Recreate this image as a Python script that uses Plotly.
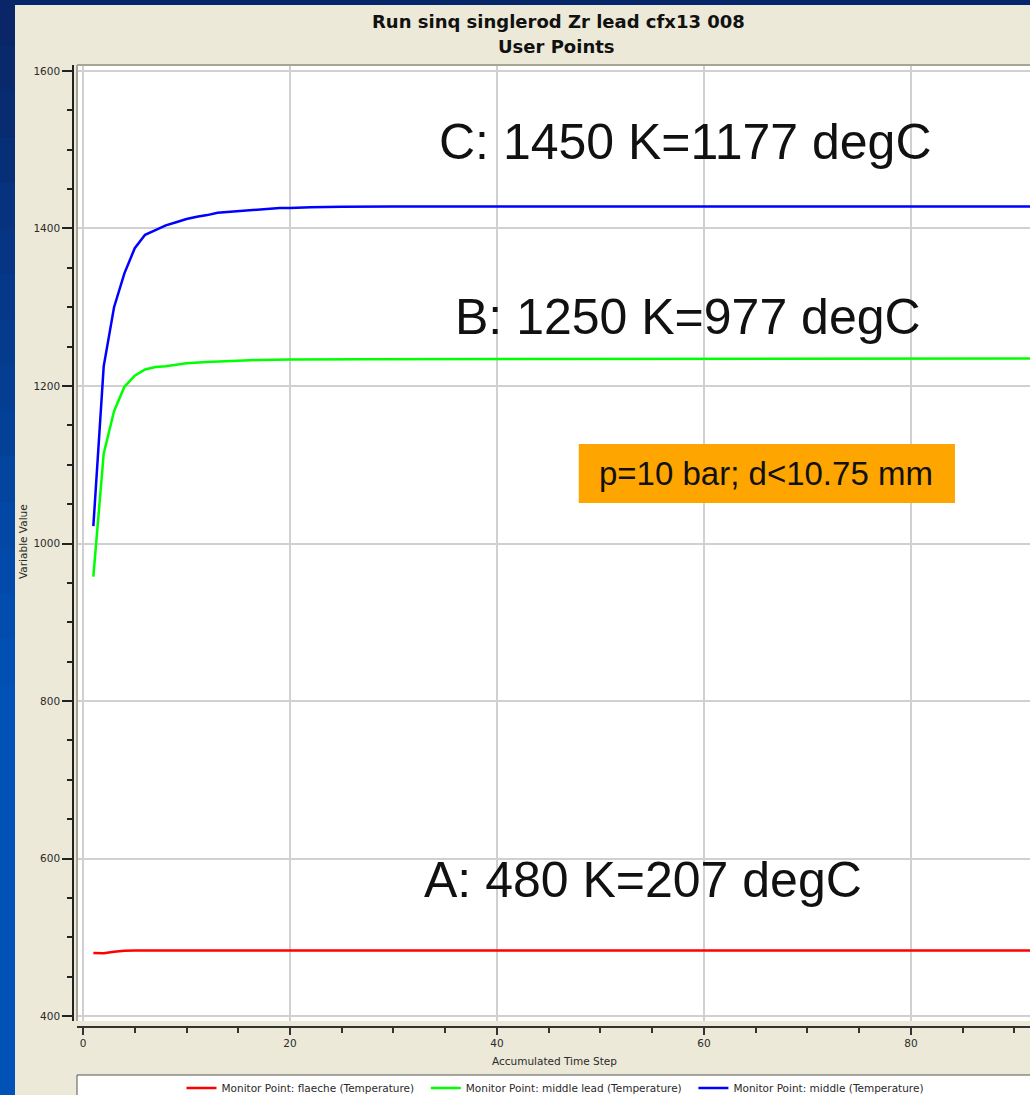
import plotly.graph_objects as go
import numpy as np

# ---- monitor point histories (temperature in K vs accumulated time step) ----
steps_flaeche = [1, 2, 3, 4, 5, 92]
temp_flaeche = [480.0, 479.7, 481.7, 482.9, 483.1, 483.1]

steps_middle_lead = [1, 2, 3, 4, 5, 6, 7, 8, 9, 10, 12, 14, 17, 20, 27, 92]
temp_middle_lead = [958, 1114, 1168, 1199, 1213, 1221, 1224, 1225, 1227, 1229,
                    1230.5, 1231.5, 1233, 1233.5, 1234, 1235]

steps_middle = [1, 2, 3, 4, 5, 6, 7, 8, 9, 10, 11, 12, 13, 14, 15, 16, 17, 18,
                19, 20, 22, 25, 30, 92]
temp_middle = [1022, 1225, 1300, 1343, 1375, 1392, 1398, 1404, 1408, 1412, 1415,
               1417, 1420, 1421, 1422, 1423, 1424, 1425, 1426, 1426, 1427,
               1427.5, 1428, 1428]

series_names = [
    "Monitor Point: flaeche (Temperature)",
    "Monitor Point: middle lead (Temperature)",
    "Monitor Point: middle (Temperature)",
]
series_colors = ["#FF0000", "#00FF00", "#0000FF"]

chart_title = "Run sinq singlerod Zr lead cfx13 008"
chart_subtitle = "User Points"
x_title = "Accumulated Time Step"
y_title = "Variable Value"

notes = ["C: 1450 K=1177 degC", "B: 1250 K=977 degC", "A: 480 K=207 degC"]
box_note = "p=10 bar; d<10.75 mm"

W, H = 1030, 1095
ML, MR, MT, MB = 73, 0, 65, 68
PW = W - ML - MR
PH = H - MT - MB


def px_x(px):
    return (px - ML) / PW


def px_y(py):
    return (H - MB - py) / PH


BEIGE = "#ECE9D8"
SMALL_FONT = dict(family="DejaVu Sans", size=10.5, color="#2a2a2a")

# a little trailing room after each legend entry, like the original legend spacing
PAD = "\u00a0\u00a0"

fig = go.Figure()
for i, (xs, ys, name, col) in enumerate(zip(
        [steps_flaeche, steps_middle_lead, steps_middle],
        [temp_flaeche, temp_middle_lead, temp_middle],
        series_names, series_colors)):
    label = name + (PAD if i < len(series_names) - 1 else "")
    fig.add_trace(go.Scatter(x=xs, y=ys, mode="lines", name=label,
                             line=dict(color=col, width=2.5)))

shapes = []
# slide background: dark band on top, gradient strip on the left
shapes.append(dict(type="rect", xref="paper", yref="paper", layer="below",
                   x0=px_x(-2), x1=px_x(W + 2), y0=px_y(5), y1=px_y(-2),
                   fillcolor="#06266A", line=dict(width=0)))
top_rgb = np.array([10, 38, 104])
bot_rgb = np.array([0, 82, 182])
n_bands = 24
edges = np.linspace(0, H, n_bands + 1)
for i in range(n_bands):
    t = min(1.0, (i / (n_bands - 1)) * 1.6)
    c = (top_rgb + (bot_rgb - top_rgb) * t).astype(int)
    shapes.append(dict(type="rect", xref="paper", yref="paper", layer="below",
                       x0=px_x(-2), x1=px_x(15), y0=px_y(edges[i + 1] + 1),
                       y1=px_y(edges[i]),
                       fillcolor="rgb(%d,%d,%d)" % tuple(c), line=dict(width=0)))

# sunken frame on top and left of the plotting area
shapes.append(dict(type="line", xref="x domain", yref="y domain",
                   x0=0, x1=1, y0=1, y1=1, line=dict(color="#A9A595", width=2)))
shapes.append(dict(type="line", xref="x domain", yref="y domain",
                   x0=0, x1=0, y0=0, y1=1, line=dict(color="#A9A595", width=2)))

# legend frame
shapes.append(dict(type="rect", xref="paper", yref="paper",
                   x0=px_x(77), x1=px_x(W + 10), y0=px_y(H + 10), y1=px_y(1075),
                   fillcolor="white", line=dict(color="#555555", width=1)))

# orange parameter box
shapes.append(dict(type="rect", xref="x", yref="y",
                   x0=47.9, x1=84.25, y0=1051.4, y1=1126.3,
                   fillcolor="#FFA500", line=dict(width=0)))

annotations = [
    dict(text="<b>%s</b>" % chart_title, xref="paper", yref="paper",
         x=px_x(558), y=px_y(21), showarrow=False, xanchor="center", yanchor="middle",
         font=dict(family="DejaVu Sans", size=18, color="#111111")),
    dict(text="<b>%s</b>" % chart_subtitle, xref="paper", yref="paper",
         x=px_x(556), y=px_y(46), showarrow=False, xanchor="center", yanchor="middle",
         font=dict(family="DejaVu Sans", size=18, color="#111111")),
    dict(text=x_title, xref="paper", yref="paper", x=px_x(554), y=px_y(1061),
         showarrow=False, xanchor="center", yanchor="middle", font=SMALL_FONT),
    dict(text=y_title, xref="paper", yref="paper", x=px_x(23), y=px_y(542),
         showarrow=False, xanchor="center", yanchor="middle", textangle=-90,
         font=SMALL_FONT),
]
big_font = dict(family="Liberation Sans, Arial", size=50, color="#111111")
for txt, (nx, ny) in zip(notes, [(58.2, 1509.2), (58.45, 1287.6), (54.1, 572.7)]):
    annotations.append(dict(text=txt, x=nx, y=ny, xref="x", yref="y", showarrow=False,
                            xanchor="center", yanchor="middle", font=big_font))
annotations.append(dict(text=box_note, x=65.95, y=1088.3, xref="x", yref="y",
                        showarrow=False, xanchor="center", yanchor="middle",
                        font=dict(family="Liberation Sans, Arial", size=33,
                                  color="#111111")))

fig.update_layout(
    width=W, height=H,
    margin=dict(l=ML, r=MR, t=MT, b=MB, pad=0, autoexpand=False),
    paper_bgcolor=BEIGE, plot_bgcolor="white",
    showlegend=True,
    legend=dict(orientation="h", x=px_x(555), xanchor="center", y=px_y(1088),
                yanchor="middle", bgcolor="rgba(0,0,0,0)", font=SMALL_FONT,
                itemwidth=30),
    shapes=shapes, annotations=annotations,
    xaxis=dict(domain=[px_x(77), 1], anchor="free", position=0,
               range=[-0.58, 91.5], tickmode="linear", tick0=0, dtick=20,
               showgrid=True, gridcolor="#D0D0D0", gridwidth=1.5, zeroline=False,
               showline=True, linecolor="#333333", linewidth=1.5,
               ticks="outside", ticklen=7, tickwidth=1.5, tickcolor="#333333",
               minor=dict(dtick=5, tick0=0, ticks="outside", ticklen=5,
                          tickwidth=1.5, tickcolor="#333333", showgrid=False),
               tickfont=SMALL_FONT, automargin=False),
    yaxis=dict(domain=[px_y(1021), 1], anchor="free", position=0,
               range=[393.7, 1607.6], tickmode="linear", tick0=400, dtick=200,
               showgrid=True, gridcolor="#D0D0D0", gridwidth=1.5, zeroline=False,
               showline=True, linecolor="#222222", linewidth=1.5,
               ticks="outside", ticklen=10, tickwidth=1.5, tickcolor="#222222",
               minor=dict(dtick=50, tick0=400, ticks="outside", ticklen=5,
                          tickwidth=1.5, tickcolor="#222222", showgrid=False),
               tickfont=SMALL_FONT, automargin=False),
)

fig.write_html("out.html")
